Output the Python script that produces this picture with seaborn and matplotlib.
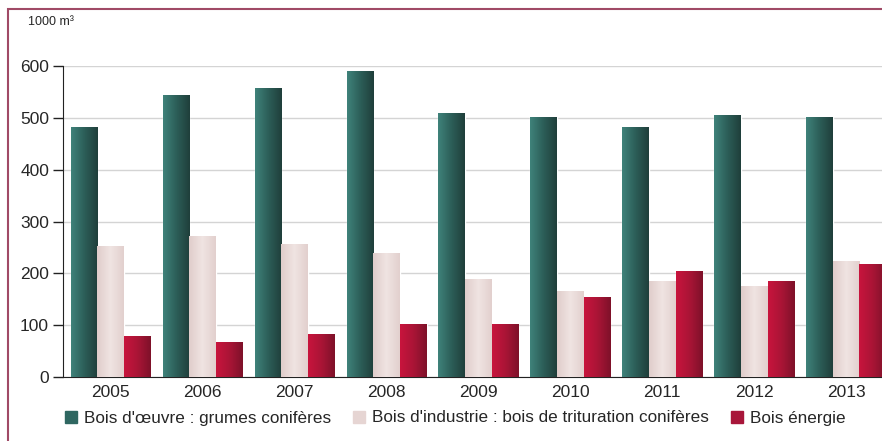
import numpy as np
import pandas as pd
import matplotlib
matplotlib.use('Agg')
import matplotlib.pyplot as plt
import seaborn as sns
from matplotlib.colors import LinearSegmentedColormap
from matplotlib.patches import Rectangle

years = ['2005', '2006', '2007', '2008', '2009', '2010', '2011', '2012', '2013']
series = ["Bois d'œuvre : grumes conifères",
          "Bois d'industrie : bois de trituration conifères",
          "Bois énergie"]
grumes = [482, 545, 557, 591, 510, 502, 483, 505, 502]
trituration = [253, 272, 256, 240, 189, 165, 185, 175, 223]
energie = [80, 68, 83, 103, 103, 155, 204, 185, 218]

colors = ['#2f6761', '#e6d5d3', '#a8163a']
gradients = [['#3f827a', '#2c5e58', '#1f3f3b'],
             ['#e0cdcb', '#f0e4e2', '#e2d0ce'],
             ['#c8143d', '#aa1536', '#7e1129']]

df = pd.DataFrame({
    'year': years * 3,
    'value': grumes + trituration + energie,
    'serie': [series[0]] * 9 + [series[1]] * 9 + [series[2]] * 9,
})

sns.set_style('white')
plt.rcParams['font.family'] = ['Liberation Sans', 'DejaVu Sans']

fig = plt.figure(figsize=(8.82, 4.41), dpi=100)
ax = fig.add_axes([63 / 882, 1 - 377 / 441, 1 - 63 / 882, (377 - 66) / 441])

sns.barplot(data=df, x='year', y='value', hue='serie', palette=colors,
            width=0.87, gap=0, ax=ax, legend=False, zorder=2)

# gradient fill on each bar
for cont, grad in zip(ax.containers, gradients):
    cmap = LinearSegmentedColormap.from_list('g', grad)
    for bar in cont:
        x0, y0 = bar.get_x(), bar.get_y()
        w, h = bar.get_width(), bar.get_height()
        im = ax.imshow(np.linspace(0, 1, 64).reshape(1, -1), cmap=cmap,
                       extent=[x0, x0 + w, y0, y0 + h], aspect='auto',
                       zorder=3, interpolation='bilinear')
        im.set_clip_path(bar)

ax.set_xlim(-0.52, 8.39)
ax.set_ylim(0, 600)
ax.set_yticks([0, 100, 200, 300, 400, 500, 600])
ax.yaxis.grid(True, color='#d4d4d4', linewidth=1, zorder=0)
ax.set_axisbelow(True)
ax.set_xlabel('')
ax.set_ylabel('')
for s in ['top', 'right']:
    ax.spines[s].set_visible(False)
ax.spines['left'].set_color('#222222')
ax.spines['bottom'].set_color('#222222')
ax.tick_params(axis='y', left=True, length=7, width=1, color='#222222',
               labelsize=12.5, pad=3)
ax.tick_params(axis='x', bottom=False, labelsize=12.5, pad=2)

fig.text(28 / 882, 1 - 22 / 441, '1000 m³', fontsize=9, va='center', ha='left')

handles = [Rectangle((0, 0), 1, 1, color=c) for c in colors]
fig.legend(handles, series, loc='center', bbox_to_anchor=(0.516, 1 - 418 / 441),
           ncol=3, frameon=False, fontsize=12.3, handlelength=0.7,
           handleheight=0.7, handletextpad=0.4, columnspacing=1.3)

fig.patches.append(Rectangle((8 / 882, -0.05), 1.1, 1 - 9 / 441 + 0.05,
                             transform=fig.transFigure, fill=False,
                             edgecolor='#a04a66', linewidth=1.5))

fig.savefig('out.png', dpi=100)
